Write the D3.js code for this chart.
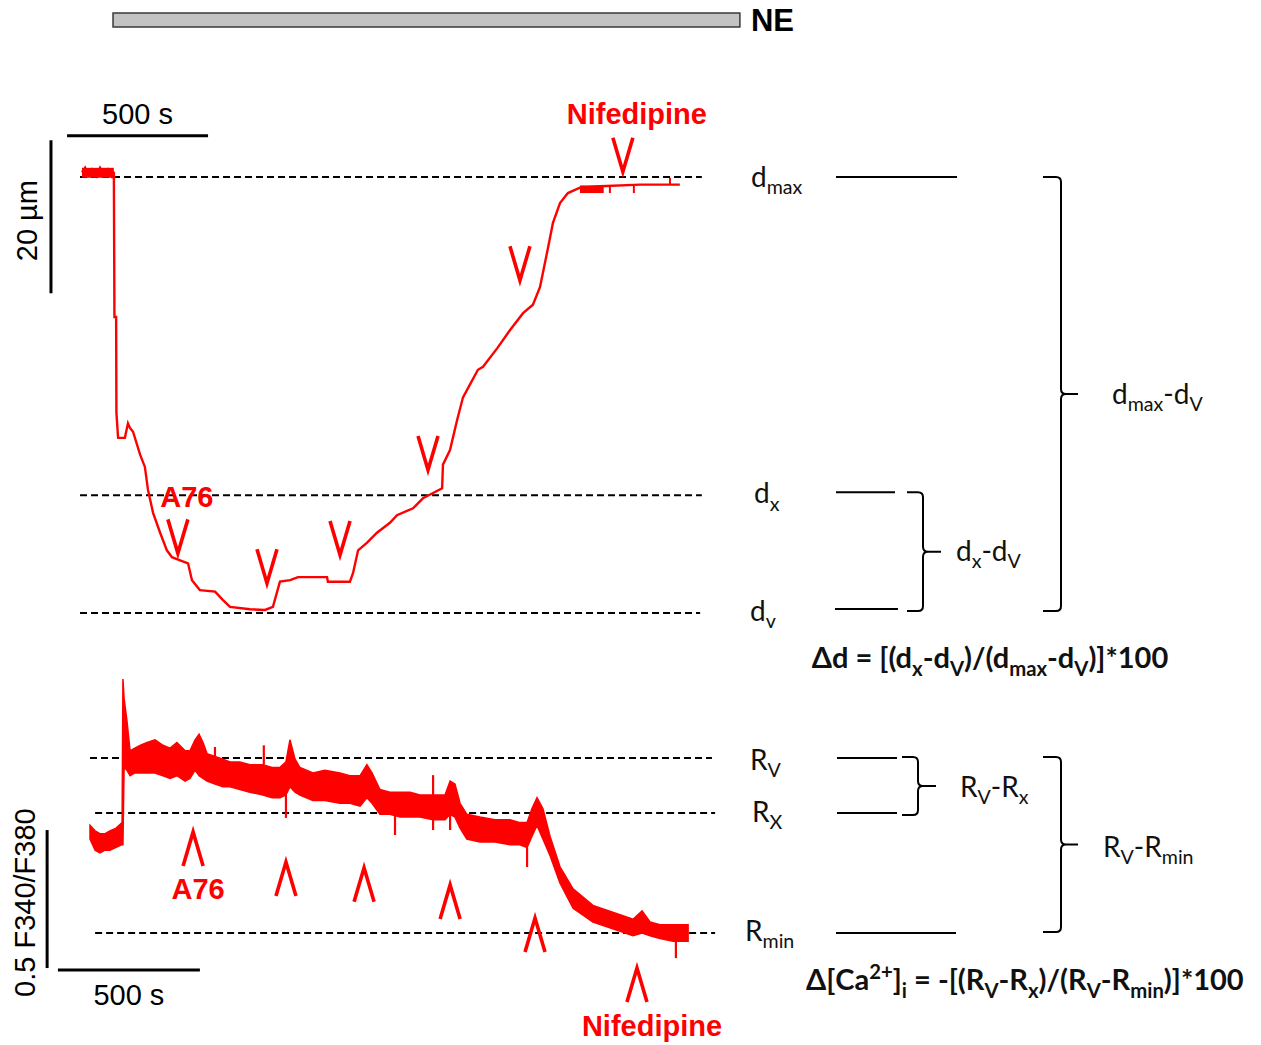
<!DOCTYPE html>
<meta charset="utf-8">
<title>Diameter and Ca2+ traces</title>
<style>
body { margin: 0; background: #fff; }
svg { display: block; }
.bar-txt { font-family: 'Liberation Sans', Arial, sans-serif; }
.narrow { font-family: 'Liberation Sans Narrow', 'Arial Narrow', 'Liberation Sans', sans-serif; }
.note { font-family: 'Lato', 'Noto Sans', sans-serif; fill: #111; }
</style>
<body>
<svg width="1261" height="1045"></svg>
<script src="https://d3js.org/d3.v7.min.js"></script>
<script>
// ---- data (time in s, diameter in µm, ratio F340/F380) ----
var diamTrace = [
  [0,120.6],[11,121.2],[21,120.3],[35,121.0],[50,120.1],[64,121.2],[78,120.4],[92,121.0],[106,120.1],[113,120.7],
  [115,101.7],[121,101.7],[122,89.2],[128,85.9],[152,85.9],[163,87.8],[170,87.2],[181,86.7],[206,83.7],[223,82.1],
  [234,79.1],[252,76.1],[277,73.5],[301,71.2],[319,70.3],[348,69.9],[376,69.5],[390,67.3],[418,66.0],[472,65.8],
  [500,64.7],[525,63.8],[596,63.5],[649,63.4],[677,63.8],[702,67.1],[738,67.3],[766,67.7],[869,67.7],[872,67.1],
  [950,67.1],[961,68.2],[979,71.2],[1011,72.2],[1046,73.5],[1092,74.8],[1117,75.8],[1174,76.7],[1209,78.0],[1245,78.7],
  [1277,79.3],[1280,82.4],[1305,84.3],[1330,88.2],[1351,91.2],[1376,92.9],[1404,94.8],[1422,95.2],[1472,97.6],[1518,100.0],
  [1564,102.2],[1599,103.3],[1624,105.6],[1649,110.1],[1670,114.0],[1695,116.6],[1723,117.9],[1766,118.6],[1837,118.8],
  [1979,119.0],[2120,119.0]
];
// noisy stretches of the diameter record, [time, lower, upper]
var diamNoise = [
  [[0,119.9,121.2],[113,119.9,121.2]],
  [[1766,117.9,118.9],[1850,117.9,118.9]]
];
var diamSpikes = [[1872,118.8,117.9],[1957,119.0,117.9],[2085,119.0,119.9]];
var diamLevels = [{name:"max", d:120.0}, {name:"x", d:78.4}, {name:"v", d:63.0}];
var diamArrows = [340, 656, 915, 1227, 1553, 1918];
var diamArrowTips = [70.8, 66.9, 70.6, 81.7, 106.5, 120.7];

// ratio trace, [time, lower, upper]
var ratioBand = [
  [0,1.14,1.19],[18,1.10,1.17],[35,1.09,1.16],[53,1.10,1.16],[70,1.10,1.17],[92,1.11,1.18],[113,1.12,1.20],
  [116,1.12,1.72],[120,1.40,1.65],[130,1.39,1.57],[141,1.37,1.46],[158,1.38,1.47],[176,1.38,1.48],[201,1.38,1.49],
  [229,1.38,1.50],[257,1.37,1.48],[282,1.36,1.47],[306,1.37,1.49],[335,1.35,1.46],[352,1.36,1.46],[370,1.39,1.50],
  [384,1.37,1.52],[398,1.36,1.49],[412,1.35,1.45],[440,1.34,1.44],[468,1.33,1.43],[493,1.33,1.42],[528,1.32,1.42],
  [563,1.31,1.41],[609,1.30,1.41],[641,1.29,1.40],[669,1.29,1.40],[690,1.30,1.42],[704,1.33,1.50],[722,1.31,1.43],
  [739,1.30,1.40],[785,1.28,1.38],[827,1.28,1.39],[880,1.27,1.38],[915,1.27,1.37],[951,1.26,1.37],[975,1.29,1.41],
  [993,1.27,1.38],[1021,1.23,1.32],[1056,1.23,1.31],[1092,1.22,1.31],[1127,1.22,1.31],[1162,1.22,1.30],[1208,1.21,1.30],
  [1250,1.21,1.30],[1268,1.23,1.35],[1285,1.22,1.34],[1303,1.18,1.27],[1327,1.14,1.23],[1373,1.13,1.22],[1426,1.13,1.21],
  [1479,1.12,1.21],[1514,1.12,1.20],[1539,1.11,1.20],[1556,1.15,1.25],[1574,1.19,1.29],[1595,1.14,1.25],[1620,1.08,1.15],
  [1655,0.98,1.04],[1701,0.89,0.96],[1771,0.84,0.90],[1856,0.81,0.87],[1912,0.79,0.85],[1944,0.80,0.88],[1972,0.79,0.84],
  [2007,0.78,0.83],[2053,0.77,0.83],[2106,0.77,0.83]
];
var ratioSpikes = [[440,1.44,1.474],[612,1.41,1.48],[690,1.30,1.217],[1074,1.23,1.155],[1208,1.30,1.372],
  [1208,1.21,1.173],[1268,1.23,1.173],[1539,1.11,1.039],[2063,0.77,0.709]];
var ratioLevels = [{name:"V", r:1.434, t0:0}, {name:"X", r:1.235, t0:18}, {name:"min", r:0.80, t0:18}];
var ratioArrows = [363, 690, 965, 1268, 1567, 1926];
var ratioArrowTips = [1.166, 1.057, 1.036, 0.974, 0.854, 0.673];

var red = "#ff0000";
var svg = d3.select("svg");

// scales: 500 s = 141 px, 20 µm = 153 px, 0.5 ratio = 138 px
var xTop = d3.scaleLinear().domain([0, 500]).range([82, 223]);
var yTop = d3.scaleLinear().domain([120, 100]).range([177, 330]);
var xBot = d3.scaleLinear().domain([0, 500]).range([90, 232]);
var yBot = d3.scaleLinear().domain([0.8, 1.3]).range([933, 795]);

// NE application bar
svg.append("rect")
  .attr("x", xTop(110)).attr("y", 13)
  .attr("width", xTop(2333) - xTop(110)).attr("height", 14)
  .attr("fill", "#c3c3c3").attr("stroke", "#3a3a3a").attr("stroke-width", 1.5);
svg.append("text").attr("class", "narrow")
  .attr("x", xTop(2333) + 11).attr("y", 31)
  .attr("font-size", 31).attr("font-weight", "bold").text("NE");

// ---- top panel ----
var gTop = svg.append("g");

// scale bars
gTop.append("line").attr("x1", xTop(-53)).attr("x2", xTop(447))
  .attr("y1", yTop(125.4)).attr("y2", yTop(125.4))
  .attr("stroke", "#000").attr("stroke-width", 3);
gTop.append("text").attr("class", "bar-txt")
  .attr("x", xTop(197)).attr("y", 124).attr("text-anchor", "middle")
  .attr("font-size", 29).text("500 s");
gTop.append("line").attr("x1", xTop(-110)).attr("x2", xTop(-110))
  .attr("y1", yTop(124.8)).attr("y2", yTop(104.8))
  .attr("stroke", "#000").attr("stroke-width", 3);
gTop.append("text").attr("class", "bar-txt")
  .attr("transform", "translate(37," + yTop(114.3) + ") rotate(-90)")
  .attr("text-anchor", "middle").attr("font-size", 29).text("20 µm");

// dashed reference levels
gTop.selectAll(".lvl").data(diamLevels).enter().append("line")
  .attr("x1", xTop(-7)).attr("x2", d => xTop(d.name == "v" ? 2192 : 2198))
  .attr("y1", d => yTop(d.d)).attr("y2", d => yTop(d.d))
  .attr("stroke", "#000").attr("stroke-width", 2).attr("stroke-dasharray", "7,4");

// trace
gTop.append("path").datum(diamTrace)
  .attr("d", d3.line().x(d => xTop(d[0])).y(d => yTop(d[1])))
  .attr("fill", "none").attr("stroke", red).attr("stroke-width", 2.4)
  .attr("stroke-linejoin", "miter");
gTop.selectAll(".noise").data(diamNoise).enter().append("path")
  .attr("d", d3.area().x(d => xTop(d[0])).y0(d => yTop(d[1])).y1(d => yTop(d[2])))
  .attr("fill", red);
gTop.selectAll(".spk").data(diamSpikes).enter().append("line")
  .attr("x1", d => xTop(d[0])).attr("x2", d => xTop(d[0]))
  .attr("y1", d => yTop(d[1])).attr("y2", d => yTop(d[2]))
  .attr("stroke", red).attr("stroke-width", 2);

// arrows
gTop.selectAll(".arr").data(diamArrows).enter().append("path")
  .attr("d", (t, i) => {
    var cx = xTop(t), ty = yTop(diamArrowTips[i]);
    return "M" + (cx - 10) + "," + (ty - 34) + "L" + cx + "," + ty + "L" + (cx + 10) + "," + (ty - 34);
  })
  .attr("fill", "none").attr("stroke", red).attr("stroke-width", 3.6);
gTop.append("text").attr("class", "bar-txt")
  .attr("x", xTop(diamArrows[0]) + 9).attr("y", yTop(diamArrowTips[0]) - 46)
  .attr("text-anchor", "middle").attr("font-size", 29).attr("font-weight", "bold")
  .attr("fill", red).text("A76");
gTop.append("text").attr("class", "bar-txt")
  .attr("x", xTop(diamArrows[5]) + 14).attr("y", yTop(diamArrowTips[5]) - 48)
  .attr("text-anchor", "middle").attr("font-size", 29).attr("font-weight", "bold")
  .attr("fill", red).text("Nifedipine");

// ---- bottom panel ----
var gBot = svg.append("g");

gBot.selectAll(".lvl").data(ratioLevels).enter().append("line")
  .attr("x1", d => xBot(d.t0)).attr("x2", d => xBot(d.name == "V" ? 2190 : 2201))
  .attr("y1", d => yBot(d.r)).attr("y2", d => yBot(d.r))
  .attr("stroke", "#000").attr("stroke-width", 2).attr("stroke-dasharray", "7,4");

gBot.append("path").datum(ratioBand)
  .attr("d", d3.area().x(d => xBot(d[0])).y0(d => yBot(d[1])).y1(d => yBot(d[2])))
  .attr("fill", red).attr("stroke", red).attr("stroke-width", 1.5);
gBot.selectAll(".spk").data(ratioSpikes).enter().append("line")
  .attr("x1", d => xBot(d[0])).attr("x2", d => xBot(d[0]))
  .attr("y1", d => yBot(d[1])).attr("y2", d => yBot(d[2]))
  .attr("stroke", red).attr("stroke-width", 2.2);

gBot.selectAll(".arr").data(ratioArrows).enter().append("path")
  .attr("d", (t, i) => {
    var cx = xBot(t), ty = yBot(ratioArrowTips[i]);
    return "M" + (cx - 10) + "," + (ty + 34) + "L" + cx + "," + ty + "L" + (cx + 10) + "," + (ty + 34);
  })
  .attr("fill", "none").attr("stroke", red).attr("stroke-width", 3.6);
gBot.append("text").attr("class", "bar-txt")
  .attr("x", xBot(ratioArrows[0]) + 5).attr("y", yBot(ratioArrowTips[0]) + 67)
  .attr("text-anchor", "middle").attr("font-size", 29).attr("font-weight", "bold")
  .attr("fill", red).text("A76");
gBot.append("text").attr("class", "bar-txt")
  .attr("x", xBot(ratioArrows[5]) + 15).attr("y", yBot(ratioArrowTips[5]) + 68)
  .attr("text-anchor", "middle").attr("font-size", 29).attr("font-weight", "bold")
  .attr("fill", red).text("Nifedipine");

// scale bars
gBot.append("line").attr("x1", xBot(-113)).attr("x2", xBot(387))
  .attr("y1", yBot(0.666)).attr("y2", yBot(0.666))
  .attr("stroke", "#000").attr("stroke-width", 3);
gBot.append("text").attr("class", "bar-txt")
  .attr("x", xBot(137)).attr("y", 1005).attr("text-anchor", "middle")
  .attr("font-size", 29).text("500 s");
gBot.append("line").attr("x1", xBot(-151)).attr("x2", xBot(-151))
  .attr("y1", yBot(1.173)).attr("y2", yBot(0.673))
  .attr("stroke", "#000").attr("stroke-width", 3);
gBot.append("text").attr("class", "bar-txt")
  .attr("transform", "translate(35," + yBot(0.91) + ") rotate(-90)")
  .attr("text-anchor", "middle").attr("font-size", 29).text("0.5 F340/F380");

// ---- schematic on the right ----
var gNote = svg.append("g");

function rich(x, y, parts, size, weight, anchor) {
  var t = gNote.append("text").attr("class", "note")
    .attr("x", x).attr("y", y).attr("font-size", size)
    .attr("font-weight", weight || "normal").attr("text-anchor", anchor || "start");
  var off = 0;
  parts.forEach(function(p) {
    var s = typeof p === "string" ? p : p[0];
    var k = typeof p === "string" ? null : p[1];
    var target = k === "sub" ? size * 0.26 : k === "sup" ? -size * 0.38 : 0;
    t.append("tspan").attr("dy", target - off)
      .attr("font-size", k ? size * 0.7 : size).text(s);
    off = target;
  });
  return t;
}

function bracket(x0, x1, x2, y0, y1) {
  var ym = (y0 + y1) / 2, r = 5;
  return "M" + x0 + "," + y0 + "L" + (x1 - r) + "," + y0 +
    "Q" + x1 + "," + y0 + " " + x1 + "," + (y0 + r) +
    "L" + x1 + "," + (ym - r) + "Q" + x1 + "," + ym + " " + (x1 + r) + "," + ym +
    "L" + x2 + "," + ym +
    "M" + (x1 + r) + "," + ym + "Q" + x1 + "," + ym + " " + x1 + "," + (ym + r) +
    "L" + x1 + "," + (y1 - r) + "Q" + x1 + "," + y1 + " " + (x1 - r) + "," + y1 +
    "L" + x0 + "," + y1;
}

function hline(x1, x2, y) {
  gNote.append("line").attr("x1", x1).attr("x2", x2).attr("y1", y).attr("y2", y)
    .attr("stroke", "#000").attr("stroke-width", 2);
}

var yMax = yTop(diamLevels[0].d), yX = yTop(diamLevels[1].d) - 3, yV = yTop(diamLevels[2].d) - 4;
hline(836, 957, yMax);
hline(836, 895, yX);
hline(835, 898, yV);
gNote.append("path").attr("d", bracket(1043, 1061, 1078, yMax, yV + 2))
  .attr("fill", "none").attr("stroke", "#000").attr("stroke-width", 2);
gNote.append("path").attr("d", bracket(907, 923, 941, yX, yV + 2))
  .attr("fill", "none").attr("stroke", "#000").attr("stroke-width", 2);

rich(751, yMax + 10, ["d", ["max", "sub"]], 28);
rich(754, yX + 11, ["d", ["x", "sub"]], 28);
rich(750, yV + 12, ["d", ["v", "sub"]], 28);
rich(1112, 404, ["d", ["max", "sub"], "-d", ["V", "sub"]], 28);
rich(956, 561, ["d", ["x", "sub"], "-d", ["V", "sub"]], 28);
rich(990, 668, ["Δd = [(d", ["x", "sub"], "-d", ["V", "sub"], ")/(d", ["max", "sub"], "-d", ["V", "sub"], ")]*100"], 29, "bold", "middle");

var rV = yBot(ratioLevels[0].r), rX = yBot(ratioLevels[1].r), rMin = yBot(ratioLevels[2].r);
hline(837, 897, rV);
hline(837, 897, rX);
hline(836, 956, rMin);
gNote.append("path").attr("d", bracket(902, 918, 936, rV - 1, rX + 2))
  .attr("fill", "none").attr("stroke", "#000").attr("stroke-width", 2);
gNote.append("path").attr("d", bracket(1043, 1061, 1078, rV - 1, rMin - 1))
  .attr("fill", "none").attr("stroke", "#000").attr("stroke-width", 2);

rich(750, rV + 12, ["R", ["V", "sub"]], 28);
rich(752, rX + 9, ["R", ["X", "sub"]], 28);
rich(745, rMin + 8, ["R", ["min", "sub"]], 28);
rich(960, 797, ["R", ["V", "sub"], "-R", ["x", "sub"]], 28);
rich(1103, 857, ["R", ["V", "sub"], "-R", ["min", "sub"]], 28);
rich(806, 990, ["Δ[Ca", ["2+", "sup"], "]", ["i", "sub"], " = -[(R", ["V", "sub"], "-R", ["x", "sub"], ")/(R", ["V", "sub"], "-R", ["min", "sub"], ")]*100"], 29, "bold");
</script>
</body>
